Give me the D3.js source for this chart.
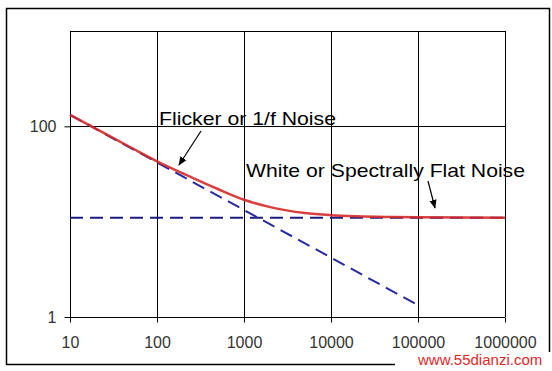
<!DOCTYPE html>
<html>
    <head>
        <title>Noise density</title>
        <meta charset="utf-8">
        <style>
            html, body {
                margin: 0px;
                padding: 0px;
                background-color: #fff;
                font-family: "Liberation Sans", Arial, sans-serif;
            }

            svg {
                display: block;
            }

            .axis text {
                fill: #333;
                font-size: 16px;
                font-family: "Liberation Sans", Arial, sans-serif;
            }

            .axis .domain {
                stroke: none;
            }

            .axis line {
                stroke: #000;
            }

            .grid line {
                stroke: #000;
                stroke-width: 1;
            }

            .note {
                fill: #000;
                font-size: 18.5px;
            }
        </style>
        <script src="https://cdn.jsdelivr.net/npm/d3@7"></script>
    </head>
    <body>
        <div id="main"></div>

        <script>
            // values (frequency in Hz, noise density)
            var freq = [10, 20, 50, 100, 200, 500, 1000, 2000, 5000, 10000, 20000, 50000, 100000, 1000000];
            var totalNoise = [132, 94, 60, 43, 32, 22, 17, 14.2, 12.3, 11.7, 11.4, 11.2, 11.1, 11.0];
            var flickerFreq = [10, 100000];
            var flickerNoise = [132, 1.33];
            var whiteFreq = [10, 1000000];
            var whiteNoise = [11, 11];
            var xTicks = [10, 100, 1000, 10000, 100000, 1000000];
            var yTicks = [1, 100];

            var width = 552;
            var height = 371;

            function main() {
                var svg = d3.select("#main")
                            .append("svg")
                            .attr("width", width)
                            .attr("height", height);

                var x = d3.scaleLog().domain([10, 1000000]).range([70, 505]);
                var y = d3.scaleLog().domain([1, 1000]).range([317, 31]);

                // outer chart frame
                svg.append("rect")
                    .attr("x", 6.5)
                    .attr("y", 8.5)
                    .attr("width", 543)
                    .attr("height", 356)
                    .attr("fill", "#fff")
                    .attr("stroke", "#000")
                    .attr("stroke-width", 1.5);

                // gridlines
                var grid = svg.append("g").attr("class", "grid");
                grid.selectAll(".v")
                    .data(xTicks)
                    .enter()
                    .append("line")
                    .attr("x1", function(d) { return Math.round(x(d)) + 0.5; })
                    .attr("x2", function(d) { return Math.round(x(d)) + 0.5; })
                    .attr("y1", y(1000))
                    .attr("y2", y(1));
                grid.selectAll(".h")
                    .data([100, 1000])
                    .enter()
                    .append("line")
                    .attr("x1", x(10))
                    .attr("x2", x(1000000))
                    .attr("y1", function(d) { return Math.round(y(d)) + 0.5; })
                    .attr("y2", function(d) { return Math.round(y(d)) + 0.5; });
                grid.append("line")
                    .attr("x1", x(10))
                    .attr("x2", x(1000000))
                    .attr("y1", Math.round(y(1)) + 0.5)
                    .attr("y2", Math.round(y(1)) + 0.5);

                // axes
                svg.append("g")
                    .attr("class", "axis")
                    .attr("transform", "translate(0," + (Math.round(y(1)) + 0.5) + ")")
                    .call(d3.axisBottom(x).tickValues(xTicks).tickFormat(d3.format("d")).tickSize(5).tickPadding(14));

                svg.append("g")
                    .attr("class", "axis")
                    .attr("transform", "translate(" + (Math.round(x(10)) + 0.5) + ",0)")
                    .call(d3.axisLeft(y).tickValues(yTicks).tickFormat(d3.format("d")).tickSize(6).tickPadding(8));

                var line = d3.line()
                    .x(function(d) { return x(d[0]); })
                    .y(function(d) { return y(d[1]); });

                // asymptotes
                svg.append("path")
                    .datum(d3.zip(whiteFreq, whiteNoise))
                    .attr("d", line)
                    .attr("fill", "none")
                    .attr("stroke", "#1c1c80")
                    .attr("stroke-width", 2)
                    .attr("stroke-dasharray", "13,7");

                svg.append("path")
                    .datum(d3.zip(flickerFreq, flickerNoise))
                    .attr("d", line)
                    .attr("fill", "none")
                    .attr("stroke", "#2a2aa0")
                    .attr("stroke-width", 2)
                    .attr("stroke-dasharray", "13,7");

                // total noise
                svg.append("path")
                    .datum(d3.zip(freq, totalNoise))
                    .attr("d", line.curve(d3.curveMonotoneX))
                    .attr("fill", "none")
                    .attr("stroke", "#d42a2a")
                    .attr("stroke-width", 2.5)
                    .attr("stroke-opacity", 0.9);

                // annotations
                svg.append("defs")
                    .append("marker")
                    .attr("id", "head")
                    .attr("viewBox", "0 0 10 10")
                    .attr("refX", 9)
                    .attr("refY", 5)
                    .attr("markerWidth", 9)
                    .attr("markerHeight", 9)
                    .attr("markerUnits", "userSpaceOnUse")
                    .attr("orient", "auto")
                    .append("path")
                    .attr("d", "M0,1 L10,5 L0,9 Z")
                    .attr("fill", "#000");

                svg.append("text")
                    .attr("class", "note")
                    .attr("x", 159)
                    .attr("y", 125)
                    .attr("textLength", 177)
                    .attr("lengthAdjust", "spacingAndGlyphs")
                    .text("Flicker or 1/f Noise");

                svg.append("line")
                    .attr("x1", 201).attr("y1", 131)
                    .attr("x2", 179).attr("y2", 165)
                    .attr("stroke", "#000")
                    .attr("stroke-width", 1.2)
                    .attr("marker-end", "url(#head)");

                svg.append("text")
                    .attr("class", "note")
                    .attr("x", 246)
                    .attr("y", 177)
                    .attr("textLength", 279)
                    .attr("lengthAdjust", "spacingAndGlyphs")
                    .text("White or Spectrally Flat Noise");

                svg.append("line")
                    .attr("x1", 428).attr("y1", 181)
                    .attr("x2", 435).attr("y2", 208)
                    .attr("stroke", "#000")
                    .attr("stroke-width", 1.2)
                    .attr("marker-end", "url(#head)");

                // site watermark on a white patch, as in the source image
                svg.append("rect")
                    .attr("x", 395)
                    .attr("y", 352)
                    .attr("width", width - 395)
                    .attr("height", height - 352)
                    .attr("fill", "#fff");

                svg.append("text")
                    .attr("x", 418)
                    .attr("y", 365)
                    .attr("fill", "#e02828")
                    .style("font-size", "15px")
                    .text("www.55dianzi.com");
            }

            main();
        </script>
    </body>
</html>
